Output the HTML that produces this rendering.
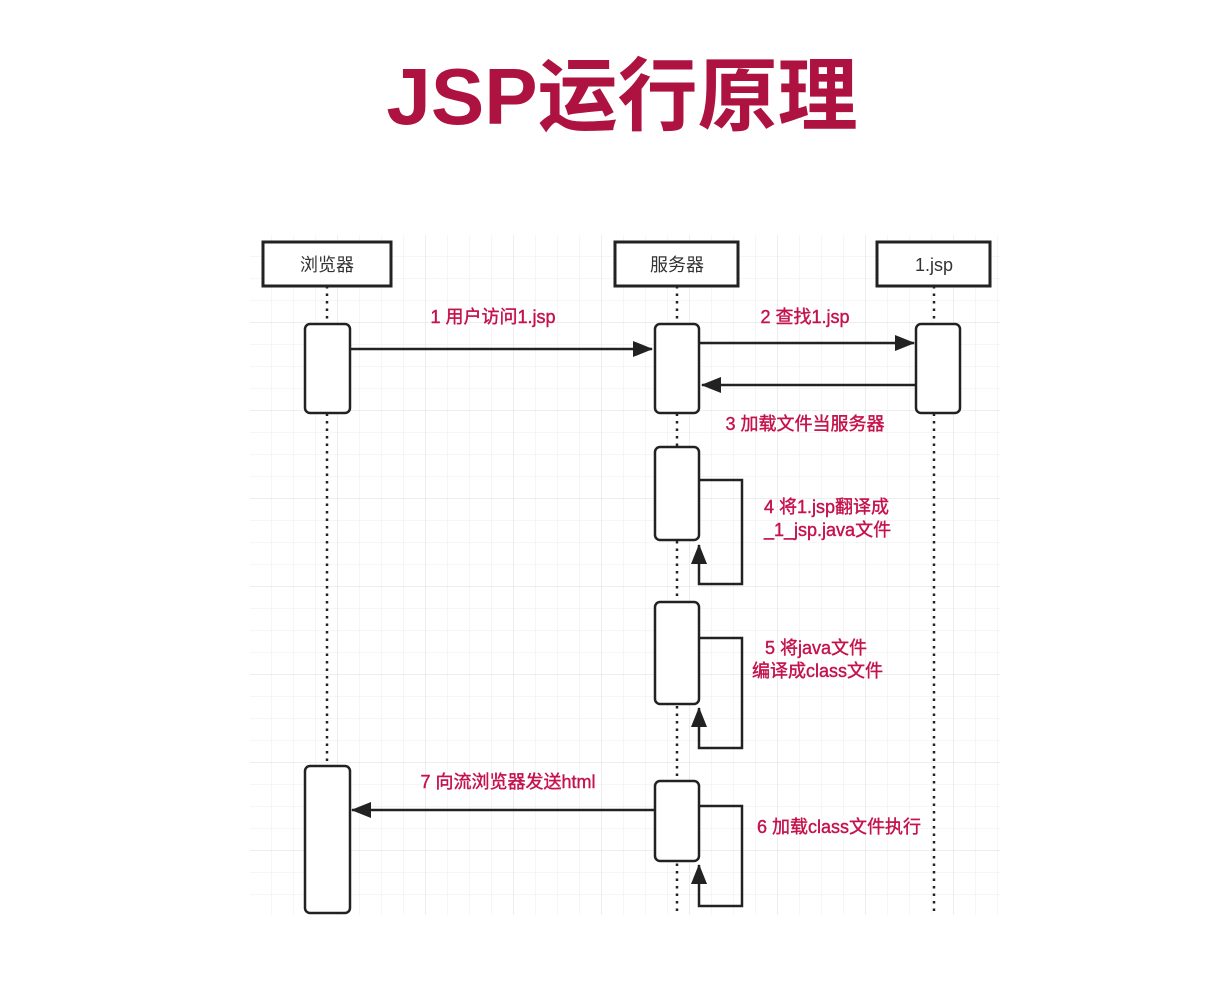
<!DOCTYPE html>
<html><head><meta charset="utf-8"><style>
html,body{margin:0;padding:0;background:#fff;}
body{width:1232px;height:985px;overflow:hidden;}
svg text{font-family:"Liberation Sans","Noto Sans CJK SC",sans-serif;}
</style></head><body>
<svg width="1232" height="985" viewBox="0 0 1232 985" xmlns="http://www.w3.org/2000/svg">
<defs>
<pattern id="g" x="250" y="235" width="22" height="22" patternUnits="userSpaceOnUse">
<path d="M22 0V22M0 22H22" stroke="#ececec" stroke-width="1" fill="none"/>
</pattern>
<pattern id="G" x="250" y="235" width="88" height="88" patternUnits="userSpaceOnUse">
<path d="M88 0V88M0 88H88" stroke="#dcdcdc" stroke-width="1" fill="none"/>
</pattern>
<marker id="a" markerWidth="20" markerHeight="16" refX="19" refY="8" orient="auto" markerUnits="userSpaceOnUse">
<path d="M0 0L20 8L0 16Z" fill="#222"/>
</marker>
</defs>
<rect x="250" y="235" width="750" height="680" fill="url(#g)"/>
<rect x="250" y="235" width="750" height="680" fill="url(#G)"/>

<text x="622" y="124" text-anchor="middle" font-size="80" font-weight="bold" fill="#AE1240">JSP运行原理</text>

<g stroke="#222" stroke-width="2.5" stroke-dasharray="2.5 5" fill="none">
<line x1="327" y1="286" x2="327" y2="915"/>
<line x1="677" y1="286" x2="677" y2="915"/>
<line x1="934" y1="286" x2="934" y2="915"/>
</g>

<g fill="#fff" stroke="#222" stroke-width="3">
<rect x="263" y="242" width="128" height="44"/>
<rect x="615" y="242" width="123" height="44"/>
<rect x="877" y="242" width="113" height="44"/>
</g>
<g font-size="18" fill="#333" text-anchor="middle">
<text x="327" y="271">浏览器</text>
<text x="677" y="271">服务器</text>
<text x="934" y="271">1.jsp</text>
</g>

<g fill="#fff" stroke="#222" stroke-width="2.5">
<rect x="305" y="324" width="45" height="89" rx="5"/>
<rect x="655" y="324" width="44" height="89" rx="5"/>
<rect x="916" y="324" width="44" height="89" rx="5"/>
<rect x="655" y="447" width="44" height="93" rx="5"/>
<rect x="655" y="602" width="44" height="102" rx="5"/>
<rect x="305" y="766" width="45" height="147" rx="5"/>
<rect x="655" y="781" width="44" height="80" rx="5"/>
</g>

<g stroke="#222" stroke-width="2.5" fill="none" marker-end="url(#a)">
<line x1="350" y1="349" x2="652" y2="349"/>
<line x1="699" y1="343" x2="914" y2="343"/>
<line x1="916" y1="385" x2="702" y2="385"/>
<polyline points="699,480 742,480 742,584 699,584 699,545"/>
<polyline points="699,638 742,638 742,748 699,748 699,708"/>
<line x1="655" y1="810" x2="352" y2="810"/>
<polyline points="699,806 742,806 742,906 699,906 699,865"/>
</g>

<g font-size="18" fill="#C4124C" stroke="#C4124C" stroke-width="0.4">
<text x="493" y="323" text-anchor="middle">1 用户访问1.jsp</text>
<text x="805" y="323" text-anchor="middle">2 查找1.jsp</text>
<text x="805" y="430" text-anchor="middle">3 加载文件当服务器</text>
<text x="764" y="513">4 将1.jsp翻译成</text>
<text x="764" y="536">_1_jsp.java文件</text>
<text x="765" y="654">5 将java文件</text>
<text x="752" y="677">编译成class文件</text>
<text x="508" y="788" text-anchor="middle">7 向流浏览器发送html</text>
<text x="757" y="833">6 加载class文件执行</text>
</g>
</svg>
</body></html>
